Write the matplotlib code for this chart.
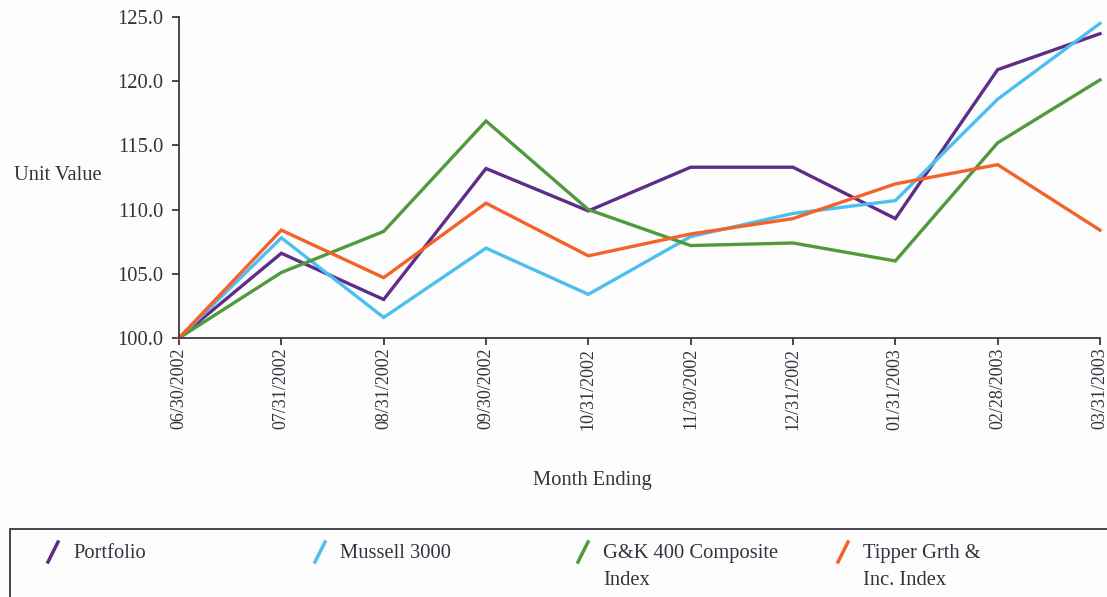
import matplotlib
matplotlib.use("Agg")
import matplotlib.pyplot as plt
from matplotlib.lines import Line2D
from matplotlib.patches import Rectangle

# data
months = ["06/30/2002", "07/31/2002", "08/31/2002", "09/30/2002", "10/31/2002",
          "11/30/2002", "12/31/2002", "01/31/2003", "02/28/2003", "03/31/2003"]
portfolio = [100.0, 106.6, 103.0, 113.2, 109.9, 113.3, 113.3, 109.3, 120.9, 123.7]
mussell = [100.0, 107.8, 101.6, 107.0, 103.4, 107.9, 109.7, 110.7, 118.6, 124.5]
gk400 = [100.0, 105.1, 108.3, 116.9, 110.0, 107.2, 107.4, 106.0, 115.2, 120.1]
tipper = [100.0, 108.4, 104.7, 110.5, 106.4, 108.1, 109.3, 112.0, 113.5, 108.4]
yticks = [100, 105, 110, 115, 120, 125]

series = [
    ("Portfolio", portfolio, "#5e2d88"),
    ("Mussell 3000", mussell, "#4dbfee"),
    ("G&K 400 Composite\nIndex", gk400, "#4f9b3c"),
    ("Tipper Grth &\nInc. Index", tipper, "#f4622b"),
]

txt = "#33333f"
plt.rcParams['font.family'] = ['Liberation Serif', 'DejaVu Serif']
fs = 14.8

W, H = 1107, 597
fig = plt.figure(figsize=(W / 100, H / 100), dpi=100)
fig.patch.set_facecolor("#fdfdfd")
ax = fig.add_axes([179 / W, 1 - 338 / H, (1100 - 179) / W, (338 - 17) / H])
ax.set_facecolor("#fdfdfd")

x = list(range(len(months)))
for name, vals, col in series:
    ax.plot(x, vals, color=col, lw=2.4, solid_joinstyle="miter", clip_on=False)

ax.set_xlim(0, len(months) - 1)
ax.set_ylim(100, 125)
ax.set_yticks(yticks)
ax.set_yticklabels([f"{v:.1f}" for v in yticks])
ax.set_xticks(x)
ax.set_xticklabels(months, rotation=90)
for s in ["top", "right"]:
    ax.spines[s].set_visible(False)
for s in ["left", "bottom"]:
    ax.spines[s].set_color("#3a3a48")
    ax.spines[s].set_linewidth(1.3)
ax.tick_params(colors="#3a3a48", labelcolor=txt, length=5, width=1.3, direction="out")
ax.tick_params(axis="y", labelsize=fs, pad=6)
ax.tick_params(axis="x", labelsize=13, pad=2)

fig.text(58 / W, 1 - 176 / H, "Unit Value", ha="center", va="center", fontsize=fs, color=txt)
fig.text(592 / W, 1 - 480 / H, "Month Ending", ha="center", va="center", fontsize=fs, color=txt)

# legend box at the bottom
fig.patches.append(Rectangle((10 / W, -0.05), 1.2, (597 - 529) / H + 0.05, transform=fig.transFigure,
                             fill=False, edgecolor="#3a3a48", lw=1.3))
lx = [48, 315, 578, 838]
for (name, vals, col), px in zip(series, lx):
    fig.lines.append(Line2D([px / W, (px + 10) / W], [1 - 562 / H, 1 - 542 / H],
                            transform=fig.transFigure, color=col, lw=2.5))
    fig.text((px + 25) / W, 1 - 544 / H, name, ha="left", va="top", fontsize=fs,
             color=txt, linespacing=1.55)

fig.savefig("out.png", dpi=100, facecolor=fig.get_facecolor())
